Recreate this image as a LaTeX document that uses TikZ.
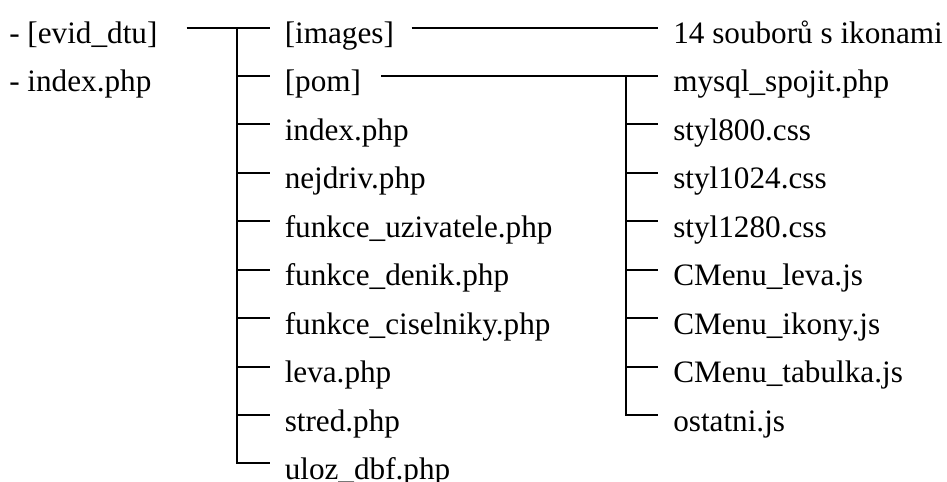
\documentclass[tikz,border=0pt]{standalone}
\usepackage{fontspec}
\setmainfont{Liberation Serif}
\usetikzlibrary{calc}

\tikzset{
  entry/.style={anchor=west, inner sep=0pt, text height=24pt, text depth=0pt,
    font=\fontsize{23.4}{28}\selectfont},
  link/.style={line width=1.5pt},
}

\begin{document}
\begin{tikzpicture}[x=0.75pt,y=-0.75pt]
        \useasboundingbox (0,0) rectangle (947,482);

        % root
        \node[entry] (evid) at (9,27.5) {- [evid\_dtu]};
        \node[entry] (rootindex) at (9,75.9) {- index.php};

        % evid_dtu
        \foreach \name/\txt [count=\i from 0] in {images/{[images]}, pom/{[pom]},
            index/index.php, nejdriv/nejdriv.php, uzivatele/funkce\_uzivatele.php,
            denik/funkce\_denik.php, ciselniky/funkce\_ciselniky.php,
            leva/leva.php, stred/stred.php, uloz/uloz\_dbf.php}
          \node[entry] (\name) at (284.5,27.5+48.44*\i) {\txt};

        % images, pom
        \node[entry] (ikony) at (673,27.5) {14 souborů s ikonami};
        \foreach \name/\txt [count=\i from 1] in {mysql/mysql\_spojit.php,
            styl800/styl800.css, styl1024/styl1024.css, styl1280/styl1280.css,
            menuleva/CMenu\_leva.js, menuikony/CMenu\_ikony.js,
            menutab/CMenu\_tabulka.js, ostatni/ostatni.js}
          \node[entry] (\name) at (673,27.5+48.44*\i) {\txt};

        \draw[link] ($(evid.east)+(29,0)$) -- ($(images.west)+(-14.5,0)$);
        \coordinate (trunkA) at ($(images.west)+(-47.5,0)$);
        \draw[link] (trunkA) -- (trunkA |- uloz) -- ($(uloz.west)+(-14.5,0)$);
        \foreach \name in {pom,index,nejdriv,uzivatele,denik,ciselniky,leva,stred}
          \draw[link] (trunkA |- \name) -- ($(\name.west)+(-14.5,0)$);

        \draw[link] ($(images.east)+(17.5,0)$) -- ($(ikony.west)+(-15,0)$);
        \draw[link] ($(pom.east)+(20,0)$) -- ($(mysql.west)+(-15,0)$);
        \coordinate (trunkB) at ($(mysql.west)+(-47,0)$);
        \draw[link] (trunkB) -- (trunkB |- ostatni) -- ($(ostatni.west)+(-15,0)$);
        \foreach \name in {styl800,styl1024,styl1280,menuleva,menuikony,menutab}
          \draw[link] (trunkB |- \name) -- ($(\name.west)+(-15,0)$);
    \end{tikzpicture}
\end{document}
